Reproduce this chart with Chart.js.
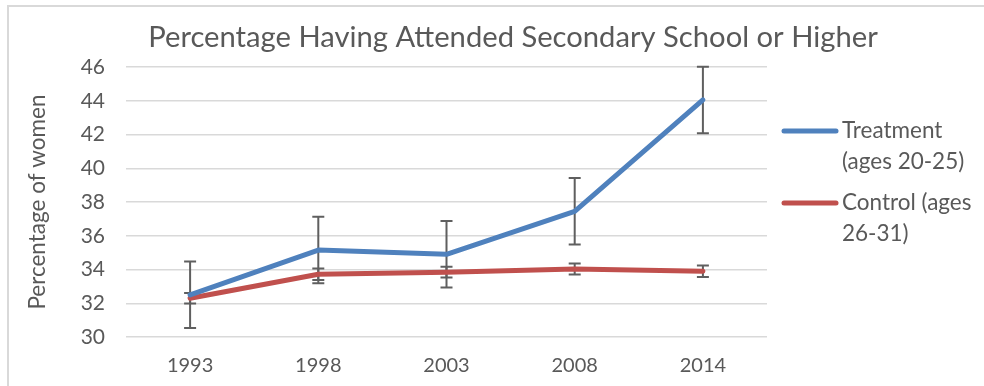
<!DOCTYPE html>
<html>
<head>
<meta charset="utf-8">
<script src="https://cdn.jsdelivr.net/npm/chart.js@4/dist/chart.umd.min.js"></script>
<style>
  html, body { margin: 0; padding: 0; background: #fff; }
  #wrap { position: relative; width: 984px; height: 386px; overflow: hidden; }
  #frame { position: absolute; left: 7px; top: 5px; width: 1200px; height: 600px; border: 2px solid #d9d9d9; box-sizing: border-box; }
  canvas { position: absolute; left: 0; top: 0; }
</style>
</head>
<body>
<div id="wrap">
  <div id="frame"></div>
  <canvas id="c" width="984" height="386"></canvas>
</div>
<script>
const years = ['1993', '1998', '2003', '2008', '2014'];
const treatment = [32.5, 35.15, 34.9, 37.45, 44.05];
const treatmentErr = [1.97, 1.97, 1.97, 1.97, 1.97];
const control = [32.3, 33.72, 33.84, 34.03, 33.9];
const controlErr = [0.31, 0.34, 0.32, 0.33, 0.34];
const yTicks = [30, 32, 34, 36, 38, 40, 42, 44, 46];
const treatmentLabel = ['Treatment', '(ages 20-25)'];
const controlLabel = ['Control (ages', '26-31)'];

const FONT = 'Lato, "Open Sans", sans-serif';
const TEXT = '#595959';
const BLUE = '#4f81bd';
const RED = '#c0504d';

const errorBars = {
  id: 'errorBars',
  beforeDatasetsDraw(chart) {
    const ctx = chart.ctx;
    const y = chart.scales.y;
    ctx.save();
    ctx.strokeStyle = '#5f5f5f';
    ctx.lineWidth = 2;
    chart.data.datasets.forEach((ds, i) => {
      const meta = chart.getDatasetMeta(i);
      meta.data.forEach((pt, j) => {
        const v = ds.data[j], e = ds.err[j];
        const x = pt.x;
        const yt = y.getPixelForValue(v + e);
        const yb = y.getPixelForValue(v - e);
        ctx.beginPath();
        ctx.moveTo(x, yt); ctx.lineTo(x, yb);
        ctx.moveTo(x - 6, yt); ctx.lineTo(x + 6, yt);
        ctx.moveTo(x - 6, yb); ctx.lineTo(x + 6, yb);
        ctx.stroke();
      });
    });
    ctx.restore();
  }
};

const sideLegend = {
  id: 'sideLegend',
  afterDraw(chart) {
    const ctx = chart.ctx;
    ctx.save();
    const rows = [131, 203];
    chart.data.datasets.forEach((ds, i) => {
      const yy = rows[i];
      ctx.strokeStyle = ds.borderColor;
      ctx.lineWidth = 5;
      ctx.lineCap = 'round';
      ctx.beginPath();
      ctx.moveTo(784, yy); ctx.lineTo(836, yy);
      ctx.stroke();
      ctx.fillStyle = TEXT;
      ctx.font = '22.5px ' + FONT;
      ctx.textBaseline = 'middle';
      ctx.textAlign = 'left';
      ds.label.forEach((line, k) => {
        ctx.fillText(line, 842, yy + k * 31);
      });
    });
    ctx.restore();
  }
};

new Chart(document.getElementById('c'), {
  type: 'line',
  data: {
    labels: years,
    datasets: [
      { label: treatmentLabel, data: treatment, err: treatmentErr, borderColor: BLUE, backgroundColor: BLUE, borderWidth: 5, pointRadius: 0, tension: 0, borderCapStyle: 'round', borderJoinStyle: 'round' },
      { label: controlLabel, data: control, err: controlErr, borderColor: RED, backgroundColor: RED, borderWidth: 5, pointRadius: 0, tension: 0, borderCapStyle: 'round', borderJoinStyle: 'round' }
    ]
  },
  options: {
    responsive: false,
    animation: false,
    layout: { padding: { left: 0, right: -42, top: 0, bottom: 0 } },
    plugins: {
      legend: { display: false },
      tooltip: { enabled: false },
      title: {
        display: true,
        text: 'Percentage Having Attended Secondary School or Higher',
        color: TEXT,
        font: { family: FONT, size: 29.2, weight: 'normal', lineHeight: 1.2 },
        padding: { top: 20, bottom: 12 }
      }
    },
    scales: {
      x: {
        offset: true,
        grid: { display: false, drawTicks: false },
        border: { display: false },
        ticks: { color: TEXT, font: { family: FONT, size: 20 }, padding: 17, maxRotation: 0 },
        afterFit(s) { s.height = 49; }
      },
      y: {
        min: 30, max: 46,
        afterBuildTicks(s) { s.ticks = yTicks.map(v => ({ value: v })); },
        grid: { color: '#d9d9d9', lineWidth: 1.5, drawTicks: false },
        border: { display: false },
        ticks: { color: TEXT, font: { family: FONT, size: 21 }, padding: 21 },
        title: { display: true, text: 'Percentage of women', color: TEXT, font: { family: FONT, size: 22.5 }, padding: { top: 24, bottom: 0 } },
        afterFit(s) { s.width = 126; }
      },
      side: {
        position: 'right',
        min: 0, max: 1,
        grid: { display: false, drawTicks: false },
        border: { display: false },
        ticks: { display: false },
        afterFit(s) { s.width = 259; }
      }
    }
  },
  plugins: [errorBars, sideLegend]
});
</script>
</body>
</html>
